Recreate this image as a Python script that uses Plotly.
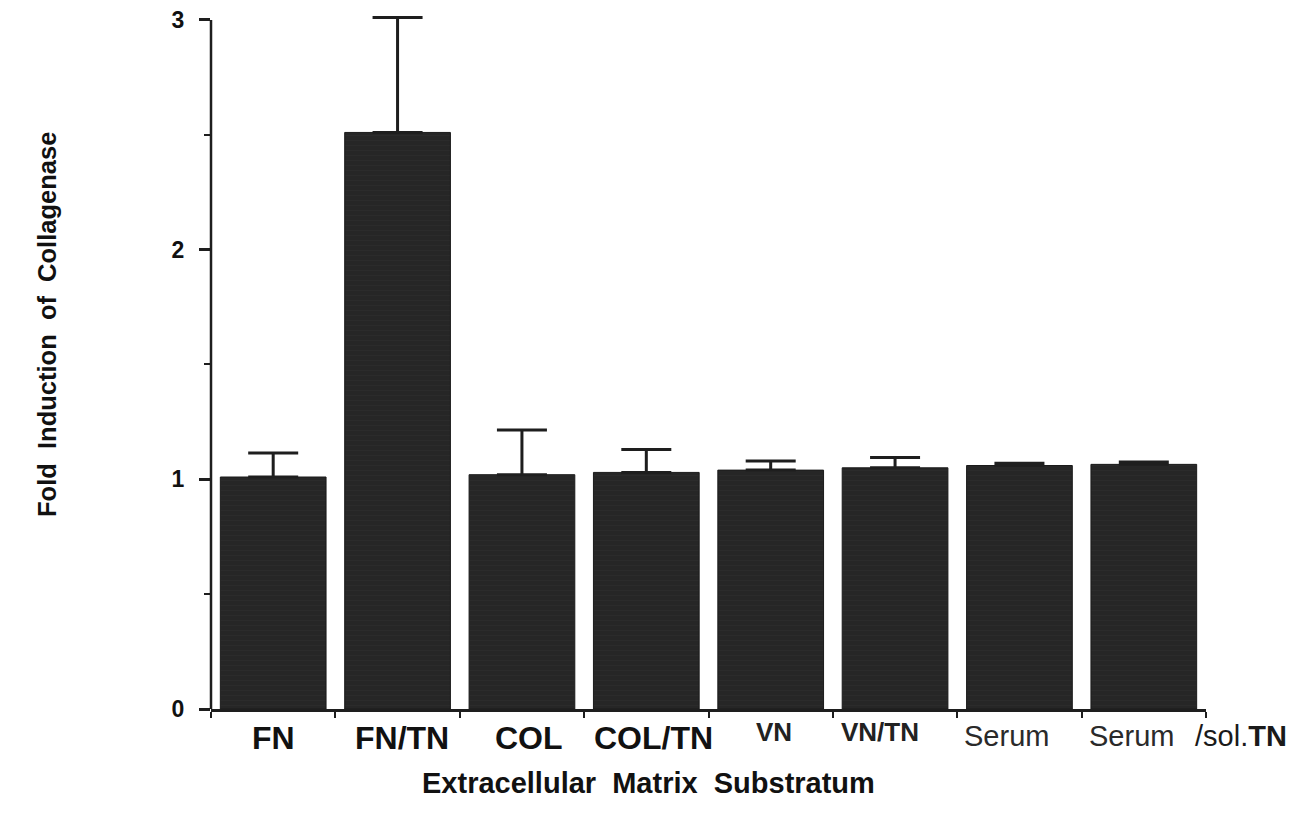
import plotly.graph_objects as go

# Fold induction of collagenase by extracellular matrix substratum
categories = ["FN", "FN/TN", "COL", "COL/TN", "VN", "VN/TN", "Serum", "Serum /sol.TN"]
fold_induction = [1.01, 2.51, 1.02, 1.03, 1.04, 1.05, 1.06, 1.065]
error_upper = [0.105, 0.50, 0.195, 0.10, 0.04, 0.045, 0.01, 0.01]
y_ticks = [0, 1, 2, 3]
y_minor_ticks = [0.5, 1.5, 2.5]

ink = "#1e1e1e"
bar_color = "#262626"
font_family = "Liberation Sans, Arial, Helvetica, sans-serif"

positions = list(range(len(categories)))
y_max = 3.03  # headroom so the tallest error cap is not clipped

fig = go.Figure()
fig.add_trace(go.Bar(
    x=positions,
    y=fold_induction,
    marker=dict(
        color=bar_color,
        line=dict(color="#1a1a1a", width=1),
        pattern=dict(shape="-", fgcolor="#333333", bgcolor=bar_color,
                     size=5, solidity=0.15),
    ),
    error_y=dict(
        type="data", symmetric=False,
        array=error_upper, arrayminus=[0] * len(error_upper),
        color=ink, thickness=3, width=25,
    ),
    showlegend=False,
    hoverinfo="skip",
))

# Category labels under the axis: per-label typography and offsets
label_styles = [
    dict(text="<b>FN</b>", size=32, dx=0, dy=-29, color="#111"),
    dict(text="<b>FN/TN</b>", size=32, dx=4, dy=-29, color="#111"),
    dict(text="<b>COL</b>", size=32, dx=7, dy=-29, color="#111"),
    dict(text="<b>COL/TN</b>", size=32, dx=7, dy=-29, color="#111"),
    dict(text="<b>VN</b>", size=26, dx=3, dy=-23, color="#222"),
    dict(text="<b>VN/TN</b>", size=26, dx=-15, dy=-23, color="#222"),
    dict(text="Serum", size=29, dx=-13, dy=-27, color="#2a2a2a"),
    dict(text="Serum", size=29, dx=-12, dy=-27, color="#2a2a2a"),
]
annotations = []
for pos, style in zip(positions, label_styles):
    annotations.append(dict(
        x=pos, y=0, xref="x", yref="paper",
        text=style["text"], showarrow=False,
        xanchor="center", yanchor="middle",
        xshift=style["dx"], yshift=style["dy"],
        font=dict(family=font_family, size=style["size"], color=style["color"]),
    ))
# trailing part of the last category label, past the axis end
annotations.append(dict(
    x=positions[-1] + 0.5, y=0, xref="x", yref="paper",
    text="/sol.<b>TN</b>", showarrow=False,
    xanchor="center", yanchor="middle",
    xshift=35, yshift=-27,
    font=dict(family=font_family, size=29, color="#1a1a1a"),
))

# axis titles
annotations.append(dict(
    x=0, y=0, xref="paper", yref="paper",
    text="<b>Extracellular  Matrix  Substratum</b>",
    showarrow=False, xanchor="center", yanchor="middle",
    xshift=648 - 211, yshift=-74,
    font=dict(family=font_family, size=29, color="#111"),
))
annotations.append(dict(
    x=0, y=0, xref="paper", yref="y",
    text="<b>Fold  Induction  of  Collagenase</b>",
    showarrow=False, xanchor="center", yanchor="middle", textangle=-90,
    xshift=47 - 211, yshift=709 - 325,
    font=dict(family=font_family, size=25.5, color="#111"),
))

fig.update_layout(
    width=1304, height=820,
    margin=dict(l=211, r=98, t=13, b=111),
    paper_bgcolor="white", plot_bgcolor="white",
    bargap=0.15,
    annotations=annotations,
    # y axis line stops at the top tick
    shapes=[dict(type="line", xref="paper", yref="y", x0=0, x1=0, y0=0, y1=3,
                 line=dict(color=ink, width=2.5), layer="above")],
    xaxis=dict(
        range=[-0.5, len(categories) - 0.5],
        automargin=False,
        showgrid=False, zeroline=False,
        showline=True, linecolor=ink, linewidth=2.5,
        showticklabels=False,
        tickmode="array",
        tickvals=[p - 0.5 for p in positions] + [positions[-1] + 0.5],
        ticks="outside", ticklen=6, tickwidth=2, tickcolor=ink,
    ),
    yaxis=dict(
        range=[0, y_max],
        automargin=False,
        showgrid=False, zeroline=False,
        showline=False,
        tickmode="array", tickvals=y_ticks,
        ticks="outside", ticklen=11, tickwidth=2.5, tickcolor=ink,
        ticklabelstandoff=10,
        tickfont=dict(family=font_family, size=23, color="#111", weight="bold"),
        minor=dict(tickmode="array", tickvals=y_minor_ticks,
                   ticks="outside", ticklen=6, tickwidth=2, tickcolor=ink),
    ),
)

fig.write_html("out.html")
